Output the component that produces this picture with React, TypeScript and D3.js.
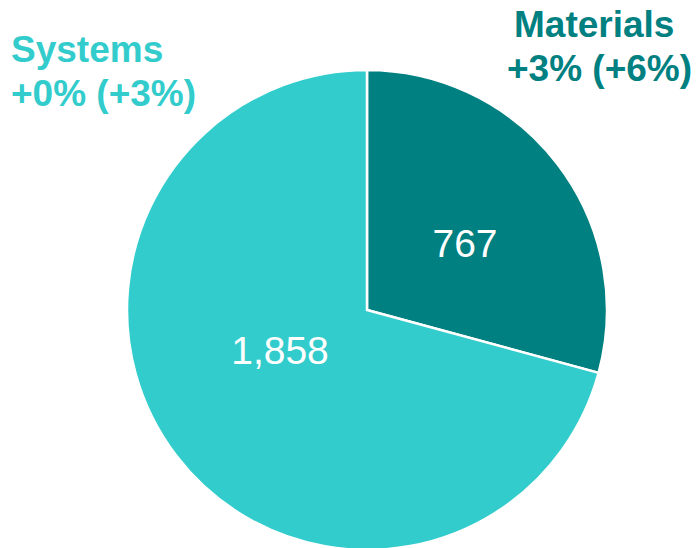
import React from "react";
import * as d3 from "d3";

const categories = ["Materials", "Systems"];
const values = [767, 1858];
const changes = ["+3% (+6%)", "+0% (+3%)"];
const colors = ["#008080", "#33CCCC"];

const W = 696;
const H = 548;

export default function App() {
  const cx = 367;
  const cy = 310;
  const r = 240;
  const pie = d3.pie<number>().sort(null).value((d) => d)(values);
  const arc = d3.arc<d3.PieArcDatum<number>>().innerRadius(0).outerRadius(r);
  const fmt = d3.format(",");
  const valuePos = [
    [98, -53],
    [-87, 54],
  ];
  const labelPos = [
    { x1: 514, x2: 507, y: 37 },
    { x1: 11, x2: 11, y: 62 },
  ];
  return (
    <svg
      width={W}
      height={H}
      style={{ position: "absolute", left: 0, top: 0 }}
      fontFamily="Arial, 'Liberation Sans', sans-serif"
    >
      <rect width={W} height={H} fill="#fff" />
      <g transform={`translate(${cx},${cy})`}>
        {pie.map((p, i) => (
          <path key={i} d={arc(p) || ""} fill={colors[i]} stroke="#fff" strokeWidth={2.5} />
        ))}
        {pie.map((p, i) => (
          <text
            key={"v" + i}
            x={valuePos[i][0]}
            y={valuePos[i][1]}
            textAnchor="middle"
            fill="#fff"
            fontSize={39}
          >
            {fmt(p.data)}
          </text>
        ))}
      </g>
      {categories.map((c, i) => (
        <text
          key={c}
          y={labelPos[i].y}
          fill={colors[i]}
          fontSize={37}
          fontWeight="bold"
        >
          <tspan x={labelPos[i].x1}>{c}</tspan>
          <tspan x={labelPos[i].x2} dy={44}>
            {changes[i]}
          </tspan>
        </text>
      ))}
    </svg>
  );
}
